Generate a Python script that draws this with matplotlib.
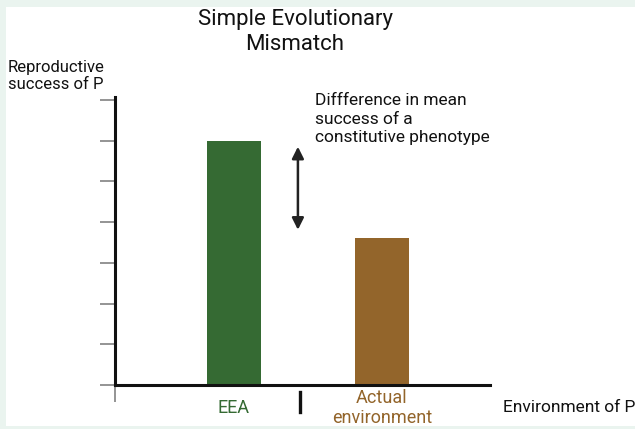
import numpy as np
import matplotlib.pyplot as plt
from matplotlib.patches import Rectangle
from matplotlib.lines import Line2D

plt.rcParams['font.family'] = ['Roboto', 'DejaVu Sans']

# data
categories = ['EEA', 'Actual\nenvironment']
success = [6.0, 3.62]
bar_colors = ['#356a33', '#93652b']
yticks = np.arange(0, 8)

fig = plt.figure(figsize=(6.35, 4.29), dpi=100, facecolor='#eaf4ef')
# white panel inside light border
fig.add_artist(Rectangle((6/635, 3/429), 1 - 6/635, 419/429, transform=fig.transFigure,
                         facecolor='white', edgecolor='none', zorder=0))

ax = fig.add_axes([115/635, 44/429, 375/635, 288/429])
ax.set_facecolor('none')

x = np.arange(len(categories))
ax.bar(x, success, width=0.365, color=bar_colors, zorder=2)

ax.set_xlim(-0.804, 1.73)
ax.set_ylim(0, 7.07)

for s in ['top', 'right']:
    ax.spines[s].set_visible(False)
for s in ['left', 'bottom']:
    ax.spines[s].set_linewidth(2.2)
    ax.spines[s].set_color('#111111')

ax.set_yticks(yticks)
ax.set_yticklabels([])
ax.tick_params(axis='y', length=11, width=1.1, color='#777777')

ax.set_xticks(x)
ax.set_xticklabels(categories, fontsize=13, va='center', linespacing=1.12)
for lbl, c in zip(ax.get_xticklabels(), bar_colors):
    lbl.set_color(c)
ax.tick_params(axis='x', which='major', length=0, pad=16.5)
ax.set_xticks([-0.804], minor=True)
ax.tick_params(axis='x', which='minor', length=12, width=1.1, color='#777777')

# separator between categories
fig.add_artist(Line2D([300/635, 300/635], [37/429, 17/429], transform=fig.transFigure,
                      color='#111111', lw=2.4))

# double arrow
ax.annotate('', xy=(0.432, 3.81), xytext=(0.432, 5.85),
            arrowprops=dict(arrowstyle='<|-|>,head_length=0.7,head_width=0.35',
                            color='#222222', lw=1.8, shrinkA=0, shrinkB=0))

fig.text(295/635, 1 - 32/429, 'Simple Evolutionary\nMismatch', ha='center', va='center',
         fontsize=16, color='#111111', linespacing=1.2)
fig.text(8/635, 1 - 76/429, 'Reproductive\nsuccess of P', ha='left', va='center',
         fontsize=12, color='#111111', linespacing=1.2)
fig.text(315/635, 1 - 119/429, 'Diffference in mean\nsuccess of a\nconstitutive phenotype',
         ha='left', va='center', fontsize=12.5, color='#111111', linespacing=1.28)
fig.text(503/635, 1 - 408/429, 'Environment of P', ha='left', va='center',
         fontsize=12.5, color='#111111')

fig.savefig('out.png', dpi=100, facecolor=fig.get_facecolor())
